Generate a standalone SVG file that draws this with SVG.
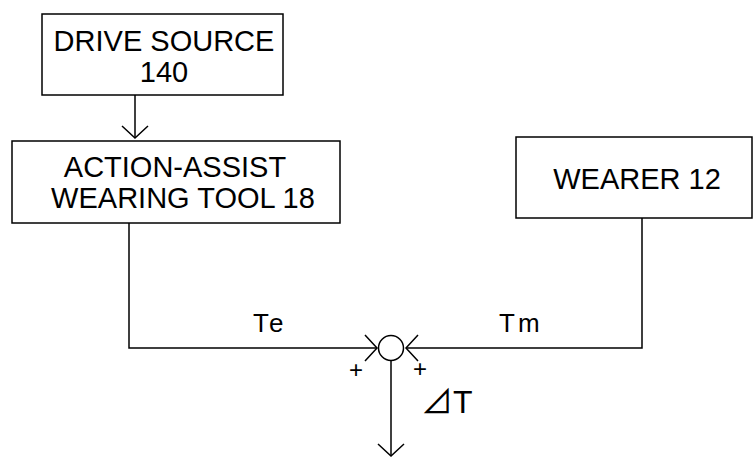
<svg xmlns="http://www.w3.org/2000/svg" width="755" height="457" viewBox="0 0 755 457">
<style>
.box{fill:#fff;stroke:#000;stroke-width:1.5}
.t{font-family:"Liberation Sans",Arial,sans-serif;font-size:29px;fill:#000;text-anchor:middle}
.l{font-family:"Liberation Sans",Arial,sans-serif;font-size:26px;fill:#000}
.p{font-family:"Liberation Sans",Arial,sans-serif;font-size:24px;fill:#000;text-anchor:middle}
.d{font-family:"Liberation Sans","Noto Sans CJK JP",sans-serif;font-size:32px;fill:#000}
.ln{fill:none;stroke:#000;stroke-width:1.5}
</style>
<defs>
<marker id="arr" markerUnits="userSpaceOnUse" viewBox="-14 -15 16 30" markerWidth="16" markerHeight="30" refX="0" refY="0" orient="auto">
<path d="M-12,-13 L0,0 L-12,13" fill="none" stroke="#000" stroke-width="1.5"/>
</marker>
</defs>
<rect width="755" height="457" fill="#fff"/>
<g id="drive-source">
<rect class="box" x="42" y="14" width="241" height="81"/>
<text class="t" x="164" y="51">DRIVE SOURCE</text>
<text class="t" x="164" y="82">140</text>
</g>
<g id="action-assist">
<rect class="box" x="12" y="141" width="328" height="82"/>
<text class="t" x="175" y="177">ACTION-ASSIST</text>
<text class="t" x="183" y="208">WEARING TOOL 18</text>
</g>
<g id="wearer">
<rect class="box" x="516" y="137" width="236" height="81"/>
<text class="t" x="637" y="189">WEARER 12</text>
</g>
<g id="sum">
<circle class="ln" cx="391" cy="348" r="12.5"/>
</g>
<g id="connectors">
<path class="ln" d="M135,95 L135,138" marker-end="url(#arr)"/>
<path class="ln" d="M129,223 L129,348 L377,348" marker-end="url(#arr)"/>
<path class="ln" d="M642,218 L642,348 L406,348" marker-end="url(#arr)"/>
<path class="ln" d="M391,360.5 L391,456" marker-end="url(#arr)"/>
</g>
<g id="labels">
<text class="l" x="253" y="332" letter-spacing="3">Te</text>
<text class="l" x="499" y="332" letter-spacing="3">Tm</text>
<text class="p" x="356" y="378">+</text>
<text class="p" x="420" y="377">+</text>
<text class="d" x="421" y="413">⊿T</text>
</g>
</svg>
